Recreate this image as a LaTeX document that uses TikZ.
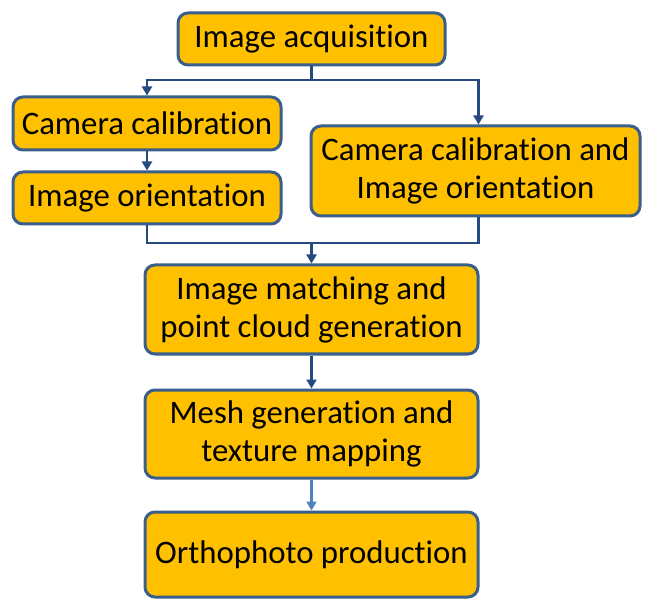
\documentclass[tikz,border=0pt]{standalone}
\usepackage{fontspec}
\setmainfont{Carlito}[Ligatures=NoCommon]
\usetikzlibrary{arrows.meta}
\definecolor{boxfill}{RGB}{255,192,0}
\definecolor{boxline}{RGB}{58,95,139}
\definecolor{linkdark}{RGB}{38,74,128}
\definecolor{linklight}{RGB}{79,129,189}
\begin{document}
\begin{tikzpicture}[x=1pt,y=-1pt,
  stepbox/.style={draw=boxline, fill=boxfill, line width=3pt, rounded corners=10pt,
    align=center, inner sep=0pt, font=\fontsize{32.8}{38}\selectfont},
  link/.style={draw=linkdark, line width=2.2pt, -{Triangle[length=9pt,width=10pt]}},
  plain/.style={draw=linkdark, line width=2.2pt}]
\useasboundingbox (0,0) rectangle (649,599);
\node[stepbox, minimum width=267pt, minimum height=52pt] (acq) at (311.5,39) {Image acquisition};
\node[stepbox, minimum width=268pt, minimum height=53pt] (cal) at (147,123.5) {Camera calibration};
\node[stepbox, minimum width=268pt, minimum height=52pt] (ori) at (147,198) {Image orientation};
\node[stepbox, minimum width=329pt, minimum height=90pt] (both) at (475.5,171) {Camera calibration and\\Image orientation};
\node[stepbox, minimum width=333pt, minimum height=89pt] (match) at (311.5,309.5) {Image matching and\\point cloud generation};
\node[stepbox, minimum width=333pt, minimum height=88pt] (mesh) at (311.5,434) {Mesh generation and\\texture mapping};
\node[stepbox, minimum width=333pt, minimum height=85pt] (ortho) at (311.5,554.5) {Orthophoto production};
\coordinate (s1) at (311.5,80);
\coordinate (s2) at (311.5,243);
\draw[plain] (acq.south) -- (s1);
\draw[link] (s1) -| (cal.north);
\draw[link] (s1) -| ([xshift=3pt]both.north);
\draw[link] (cal.south) -- (ori.north);
\draw[plain] (ori.south) |- (s2) -| ([xshift=3pt]both.south);
\draw[link] (s2) -- (match.north);
\draw[link] (match.south) -- (mesh.north);
\draw[link, draw=linklight] (mesh.south) -- (ortho.north);
\end{tikzpicture}
\end{document}
